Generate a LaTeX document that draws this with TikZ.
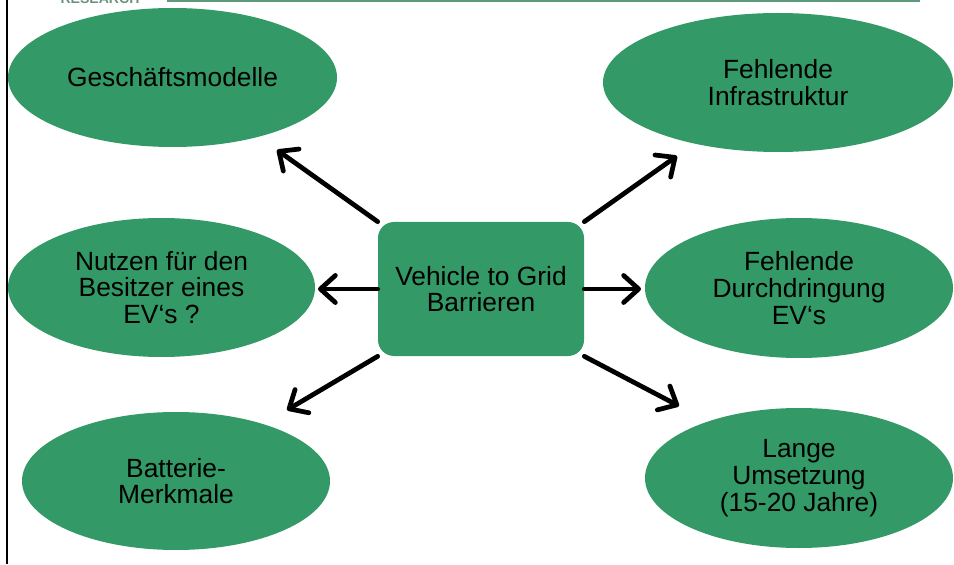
\documentclass[tikz,border=0pt]{standalone}
\usepackage{fontspec}
\setmainfont{Liberation Sans}
\usetikzlibrary{shapes.geometric}
\usetikzlibrary{arrows.meta}

\definecolor{vgreen}{RGB}{51,153,102}
\definecolor{hdgreen}{RGB}{96,154,124}

\begin{document}
\begin{tikzpicture}[
	barrier/.style={ellipse, fill=vgreen, inner sep=0pt, align=center, font=\fontsize{15}{15.2}\selectfont},
	arr/.style={line width=2.7pt, line cap=round, -{Straight Barb[length=0.3cm, width=0.54cm, round]}}
	]
	% Fix page size
	\useasboundingbox (0,0) rectangle (19.08,11.28);
	
	% Page decoration (left rule, header line and cut off header text)
	\fill[black] (0.12,0) rectangle (0.16,11.28);
	\draw[hdgreen, line width=2pt] (3.34,11.28) -- (18.40,11.28);
	\node[anchor=base, text=hdgreen!70!gray, font=\fontsize{8}{8}\selectfont\bfseries, inner sep=0pt] (R) at (2.0,11.21) {RESEARCH};
	
	% Central box (V)
	\node[fill=vgreen, rounded corners=0.32cm, minimum width=4.12cm, minimum height=2.68cm, align=center, font=\fontsize{15}{15.2}\selectfont] (V) at (9.62,5.50) {Vehicle to Grid\\Barrieren};
	
	% Barriers on the left side (G, N, B) and right side (I, D, L)
	\node[barrier, minimum width=6.58cm, minimum height=2.78cm] (G) at (3.45,9.73) {Geschäftsmodelle};
	\node[barrier, minimum width=6.14cm, minimum height=2.78cm] (N) at (3.23,5.53) {Nutzen für den\\Besitzer eines\\EV‘s ?};
	\node[barrier, minimum width=6.16cm, minimum height=2.76cm] (B) at (3.52,1.66) {Batterie-\\Merkmale};
	\node[barrier, minimum width=7.00cm, minimum height=2.78cm] (I) at (15.56,9.63) {Fehlende\\Infrastruktur};
	\node[barrier, minimum width=6.16cm, minimum height=2.80cm] (D) at (15.98,5.52) {Fehlende\\Durchdringung\\EV‘s};
	\node[barrier, minimum width=6.16cm, minimum height=2.80cm] (L) at (15.98,1.72) {Lange\\Umsetzung\\(15-20 Jahre)};
	
	% Arrow tips in front of the barriers (g, n, b, i, d, l)
	\coordinate (g) at (5.54,8.28);
	\coordinate (n) at (6.36,5.50);
	\coordinate (b) at (5.74,3.08);
	\coordinate (i) at (13.54,8.16);
	\coordinate (d) at (12.82,5.50);
	\coordinate (l) at (13.58,3.16);
	
	% Draw arrows from the central box
	\draw[arr] (V.north west) -- (g);
	\draw[arr] (V.west) -- (n);
	\draw[arr] (V.south west) -- (b);
	\draw[arr] (V.north east) -- (i);
	\draw[arr] (V.east) -- (d);
	\draw[arr] (V.south east) -- (l);
\end{tikzpicture}
\end{document}
